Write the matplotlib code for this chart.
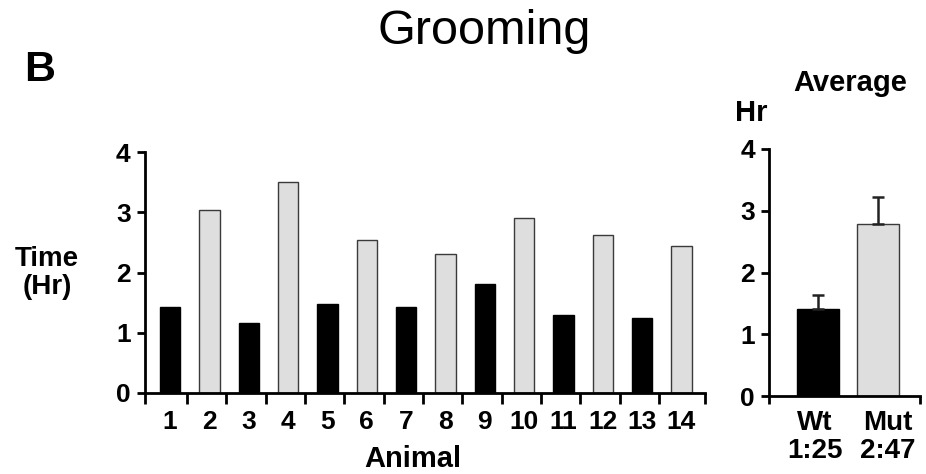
import matplotlib
matplotlib.use("Agg")
import matplotlib.pyplot as plt
import matplotlib.transforms as mtransforms
import numpy as np

plt.rcParams['font.family'] = ['Liberation Sans', 'DejaVu Sans']

# ---- data ----
animals = list(range(1, 15))
times = [1.43, 3.03, 1.16, 3.50, 1.47, 2.54, 1.43, 2.31, 1.81, 2.90, 1.30, 2.62, 1.24, 2.44]
genotype = ['Wt', 'Mut'] * 7
avg_groups = ['Wt\n1:25', 'Mut\n2:47']
avg_values = [1.41, 2.78]
avg_err = [0.22, 0.44]
yticks = [0, 1, 2, 3, 4]

W, H = 926, 474
fig = plt.figure(figsize=(W / 100, H / 100), dpi=100)

def px_axes(l, r, b, t):
    return fig.add_axes([l / W, (H - b) / H, (r - l) / W, (b - t) / H])

colors = {'Wt': '#000000', 'Mut': '#dedede'}
edge = {'Wt': '#000000', 'Mut': '#3a3a3a'}

# ---- main panel ----
ax = px_axes(144.5, 705, 393, 152)
ax.bar(animals, times, width=0.52,
       color=[colors[g] for g in genotype],
       edgecolor=[edge[g] for g in genotype], linewidth=1.0)
ax.set_xlim(0.35, 14.6)
ax.set_ylim(0, 4)
for s in ['top', 'right']:
    ax.spines[s].set_visible(False)
for s in ['left', 'bottom']:
    ax.spines[s].set_linewidth(2.0)
ax.set_yticks(yticks)
ax.set_yticklabels([str(v) for v in yticks], fontsize=19, fontweight='bold')
ax.tick_params(axis='y', direction='out', length=6, width=2, pad=4)
ax.set_xticks(animals)
ax.set_xticklabels([str(a) for a in animals], fontsize=19, fontweight='bold')
ax.tick_params(axis='x', which='major', length=0, pad=12)
minor = [0.35] + [a + 0.43 for a in animals[:-1]] + [14.6]
ax.set_xticks(minor, minor=True)
ax.tick_params(axis='x', which='minor', direction='out', length=8, width=2)
ax.set_xlabel('Animal', fontsize=21, fontweight='bold')
ax.xaxis.set_label_coords((413 - 144.5) / (705 - 144.5), -(467 - 393) / (393 - 152))
ax.xaxis.label.set_va('baseline')

fig.text(47 / W, 1 - 273 / H, 'Time\n(Hr)', ha='center', va='center',
         fontsize=20, fontweight='bold', linespacing=1.05)

# ---- average panel ----
ax2 = px_axes(769, 920, 396, 149)
xs = np.arange(len(avg_groups))
ax2.bar(xs, avg_values, width=0.7,
        color=[colors['Wt'], colors['Mut']],
        edgecolor=[edge['Wt'], edge['Mut']], linewidth=1.0)
ax2.errorbar(xs, avg_values, yerr=[[0, 0], avg_err], fmt='none',
             ecolor='#222222', elinewidth=1.8, capsize=4.3, capthick=1.8)
ax2.set_xlim(-0.82, 1.71)
ax2.set_ylim(0, 4)
for s in ['top', 'right']:
    ax2.spines[s].set_visible(False)
for s in ['left', 'bottom']:
    ax2.spines[s].set_linewidth(2.0)
ax2.set_yticks(yticks)
ax2.set_yticklabels([str(v) for v in yticks], fontsize=19, fontweight='bold')
ax2.tick_params(axis='y', direction='out', length=6, width=2, pad=4)
ax2.set_xticks(xs)
ax2.set_xticklabels(avg_groups, fontsize=20, fontweight='bold', linespacing=1.1)
ax2.tick_params(axis='x', length=0, pad=10)
ax2.set_xticks([-0.82, 1.71], minor=True)
ax2.tick_params(axis='x', which='minor', direction='out', length=6, width=2)
shifts = [-3, 10]
for lab, dx in zip(ax2.get_xticklabels(), shifts):
    lab.set_transform(lab.get_transform() +
                      mtransforms.ScaledTranslation(dx / 100, 0, fig.dpi_scale_trans))

fig.text(751 / W, 1 - 113 / H, 'Hr', ha='center', va='center',
         fontsize=21, fontweight='bold')
fig.text(850 / W, 1 - 83 / H, 'Average', ha='center', va='center',
         fontsize=21, fontweight='bold')

# ---- titles ----
fig.text(484 / W, 1 - 31 / H, 'Grooming', ha='center', va='center', fontsize=35)
fig.text(40 / W, 1 - 70 / H, 'B', ha='center', va='center',
         fontsize=31, fontweight='bold')

fig.savefig('out.png', dpi=100)
